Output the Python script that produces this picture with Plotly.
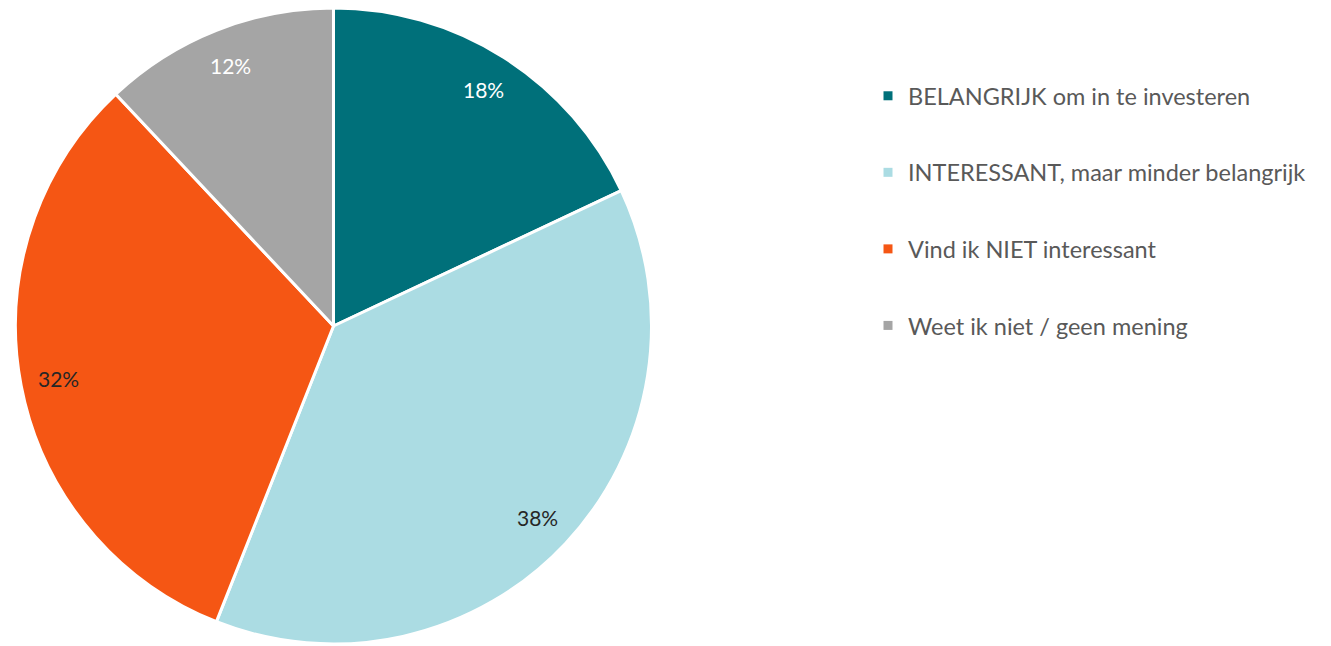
import math
import plotly.graph_objects as go

# Survey answers and their shares (%)
categories = [
    "BELANGRIJK om in te investeren",
    "INTERESSANT, maar minder belangrijk",
    "Vind ik NIET interessant",
    "Weet ik niet / geen mening",
]
shares = [18, 38, 32, 12]
slice_colors = ["#00707A", "#ABDCE3", "#F55614", "#A5A5A5"]
label_colors = ["#FFFFFF", "#262626", "#262626", "#FFFFFF"]

W, H = 1331, 646
# pie placement in pixels
cx_px, cy_px, r_px = 333.5, 326.0, 318.0
label_radius = 0.88

fig = go.Figure()
fig.add_trace(go.Pie(
    labels=categories,
    values=shares,
    sort=False,
    direction="clockwise",
    rotation=0,
    marker=dict(colors=slice_colors, line=dict(color="#FFFFFF", width=3)),
    textinfo="none",
    showlegend=False,
    domain=dict(x=[(cx_px - r_px) / W, (cx_px + r_px) / W],
                y=[1 - (cy_px + r_px) / H, 1 - (cy_px - r_px) / H]),
))

# legend entries as square markers, one group each so the gap can be set
for name, col in zip(categories, slice_colors):
    fig.add_trace(go.Scatter(
        x=[None], y=[None], mode="markers", name=name, legendgroup=name,
        marker=dict(symbol="square", size=9, color=col),
    ))

# percentage labels placed near the outer edge of each slice
total = sum(shares)
cum = 0
for v, tc in zip(shares, label_colors):
    mid = (cum + v / 2) / total * 2 * math.pi
    cum += v
    px = cx_px + label_radius * r_px * math.sin(mid)
    py = cy_px - label_radius * r_px * math.cos(mid)
    fig.add_annotation(
        x=px / W, y=1 - py / H, xref="paper", yref="paper",
        text=f"{v}%", showarrow=False, xanchor="center", yanchor="middle",
        font=dict(family="Lato, Calibri, sans-serif", size=21, color=tc),
    )

fig.update_layout(
    width=W, height=H,
    margin=dict(l=0, r=0, t=0, b=0),
    paper_bgcolor="#FFFFFF",
    plot_bgcolor="#FFFFFF",
    xaxis=dict(visible=False),
    yaxis=dict(visible=False),
    legend=dict(
        x=868 / W, y=1 - 74 / H, xanchor="left", yanchor="top",
        font=dict(family="Lato, Calibri, sans-serif", size=23.5, color="#595959"),
        tracegroupgap=43,
        bgcolor="rgba(0,0,0,0)",
    ),
)

fig.write_html("out.html")
